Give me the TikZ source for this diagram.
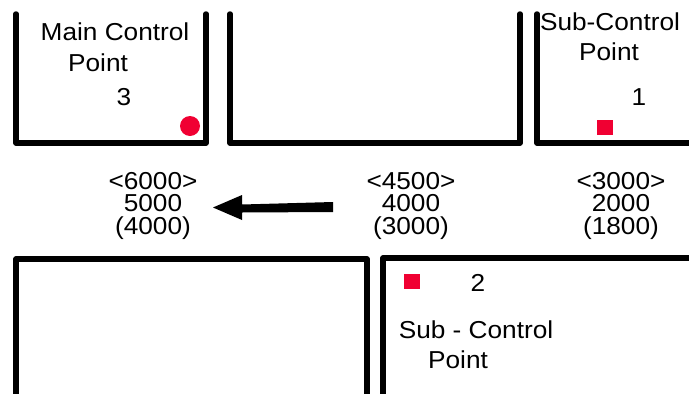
\documentclass[tikz,border=0pt]{standalone}
\usepackage{fontspec}
\setmainfont{Liberation Sans}[FakeStretch=1.07]
\begin{document}
\begin{tikzpicture}[x=1pt,y=-1pt,
  wall/.style={line width=5.5pt,line cap=round,line join=round},
  lbl/.style={font=\fontsize{24.5}{22.5}\selectfont,inner sep=0pt,align=center}]
\useasboundingbox (0,0) rectangle (689,394);
\definecolor{mkred}{RGB}{240,0,50}
% walls
\draw[wall] (16,14) -- (16,143) -- (206,143) -- (206,14);
\draw[wall] (230,14) -- (230,143) -- (520,143) -- (520,14);
\draw[wall] (537,14) -- (537,143) -- (695,143);
\draw[wall] (16,400) -- (16,259) -- (367,259) -- (367,400);
\draw[wall] (383,400) -- (383,258) -- (695,258);
% top-left room
\node[lbl] (mcp1) at (115,32) {Main Control};
\node[lbl] (mcp2) at (98,63) {Point};
\node[lbl] (n3) at (124,97) {3};
\fill[mkred] (190,126) circle (10);
% top-right room
\node[lbl] (scp1) at (610,22) {Sub-Control};
\node[lbl] (scp2) at (609,52) {Point};
\node[lbl] (n1) at (639,97) {1};
\fill[mkred] (597,120) rectangle (613,135);
% bottom-right room
\fill[mkred] (404,274) rectangle (420,289);
\node[lbl] (n2) at (478,283) {2};
\node[lbl] (sbp1) at (476,330) {Sub - Control};
\node[lbl] (sbp2) at (458,360) {Point};
% values
\node[lbl] (a) at (153,205.5) {<6000>\\5000\\(4000)};
\node[lbl] (b) at (411,205.5) {<4500>\\4000\\(3000)};
\node[lbl] (c) at (621,205.5) {<3000>\\2000\\(1800)};
% arrow
\fill (333,202) -- (242,204.5) -- (242,195) -- (213,207.5) -- (242,220) -- (242,212.5) -- (333,212) -- cycle;
\end{tikzpicture}
\end{document}
